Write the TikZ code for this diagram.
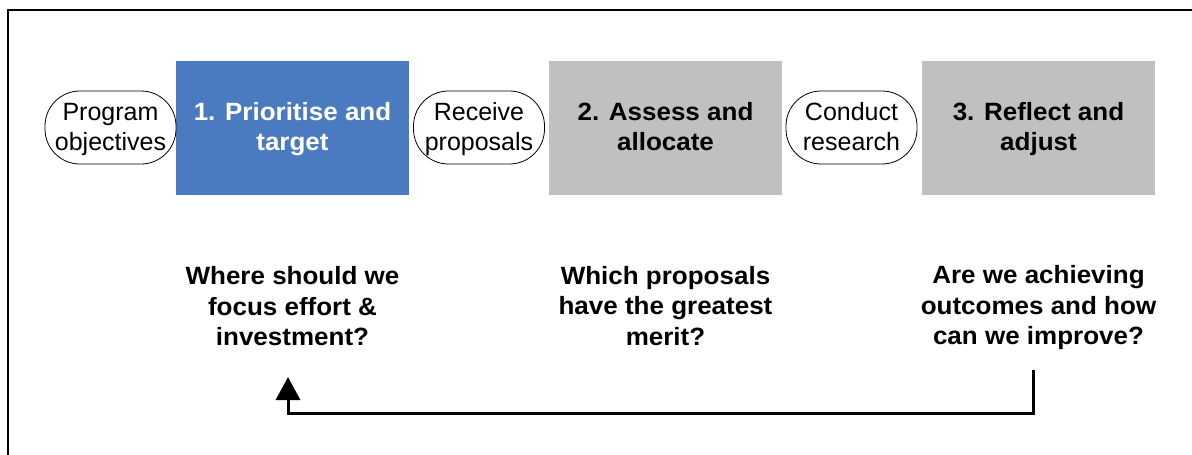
\documentclass[tikz,border=0pt]{standalone}
\usepackage{fontspec}
\setmainfont[BoldFeatures={FakeStretch=1.04}]{Liberation Sans}
\usetikzlibrary{arrows.meta}
\definecolor{stageblue}{HTML}{4A7AC0}
\definecolor{stagegrey}{HTML}{C0C0C0}
% fixed line boxes so every multi-line label sits on the same baselines
\newcommand\rowstrut{\rule[-7pt]{0pt}{30pt}}
\newcommand\qstrut{\rule[-7.5pt]{0pt}{30.5pt}}
\begin{document}
\begin{tikzpicture}[x=1pt,y=-1pt,
  stagebox/.style={rectangle, minimum width=233pt, minimum height=134pt,
    inner sep=0pt, align=center, font=\fontsize{25}{30}\selectfont\bfseries},
  inputpill/.style={rectangle, rounded corners=35pt, draw=black, line width=0.8pt,
    fill=white, minimum width=131pt, minimum height=73pt, inner sep=0pt,
    align=center, font=\fontsize{25}{30}\selectfont},
  question/.style={align=center, inner sep=0pt, font=\fontsize{25}{30.5}\selectfont\bfseries},
  loop/.style={line width=3pt, -{Triangle[width=24pt,length=23pt]}}]
\path[use as bounding box, clip] (0,0) rectangle (1192,455);
\fill[white] (0,0) rectangle (1192,455);
% outer frame (runs past the page on the right and bottom)
\draw[line width=2pt] (8,10) rectangle (1210,480);

% stages
\node[stagebox, fill=stageblue, text=white] (s1) at (292.5,127.5)
  {\rowstrut 1. Prioritise and\\\rowstrut target};
\node[stagebox, fill=stagegrey] (s2) at (665.5,127.5)
  {\rowstrut 2. Assess and\\\rowstrut allocate};
\node[stagebox, fill=stagegrey] (s3) at (1038.5,127.5)
  {\rowstrut 3. Reflect and\\\rowstrut adjust};

% inputs between the stages
\node[inputpill] (in0) at (110.5,127.5) {\rowstrut Program\\\rowstrut objectives};
\node[inputpill] (in1) at (479,127.5) {\rowstrut Receive\\\rowstrut proposals};
\node[inputpill] (in2) at (851.5,127.5) {\rowstrut Conduct\\\rowstrut research};

% guiding questions
\node[question] (q1) at (292.5,307.5)
  {\qstrut Where should we\\\qstrut focus effort \&\\\qstrut investment?};
\node[question] (q2) at (665.5,307)
  {\qstrut Which proposals\\\qstrut have the greatest\\\qstrut merit?};
\node[question] (q3) at (1038.5,306.5)
  {\qstrut Are we achieving\\\qstrut outcomes and how\\\qstrut can we improve?};

% feedback loop from reflection back to prioritisation
\coordinate (fbstart) at (1033,370);
\coordinate (fbend) at (288,377);
\draw[loop] (fbstart) |- ++(0,43) -| (fbend);
\end{tikzpicture}
\end{document}
